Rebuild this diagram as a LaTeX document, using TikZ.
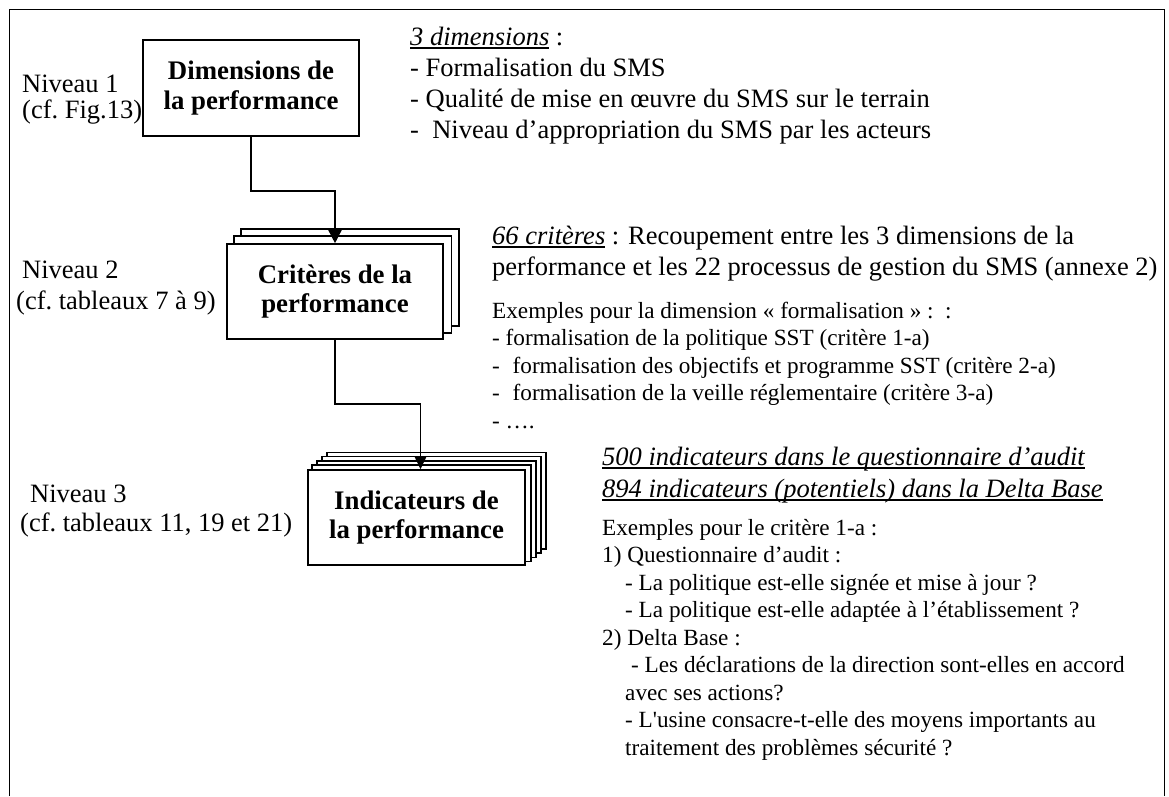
\documentclass[tikz,border=0pt]{standalone}
\usepackage{fontspec}
\setmainfont{Liberation Serif}
\usetikzlibrary{arrows.meta,backgrounds,calc}
\newsavebox\ulbox
\newcommand\myul[1]{\sbox\ulbox{#1}\rlap{\rule[-0.14em]{\wd\ulbox}{0.055em}}\usebox\ulbox}
\begin{document}
\begin{tikzpicture}[x=1pt,y=-1pt,
  frame/.style={line width=1.6pt},
  box/.style={draw, line width=1.6pt, fill=white, align=center, inner sep=0pt,
    font=\bfseries\fontsize{26.8}{29.5}\selectfont},
  layer/.style={draw, line width=1.6pt, fill=white},
  conn/.style={line width=1.6pt},
  lab/.style={inner sep=0pt, anchor=base west, font=\fontsize{26.5}{30}\selectfont},
  hdr/.style={inner sep=0pt, anchor=base west, font=\fontsize{26.5}{31}\selectfont},
  body/.style={inner sep=0pt, anchor=base west, font=\fontsize{23.2}{27.5}\selectfont}]
\useasboundingbox (0,0) rectangle (1169,796);
% outer frame (open at the bottom)
\draw[frame] (9.5,796) -- (9.5,9.5) -- (1164.5,9.5) -- (1164.5,796);

% boxes
\node[box, minimum width=216, minimum height=96] (b1) at (251,88) {Dimensions de\\la performance};
\node[box, minimum width=216, minimum height=95] (b2) at (335,291.5) {Critères de la\\performance};
\node[box, minimum width=217, minimum height=95] (b3) at (416.5,517.5) {Indicateurs de\\la performance};
\begin{scope}[on background layer]
  \foreach \k in {2,1}
    \draw[layer] ($(b2.south west)+(\k*7.5,-\k*7)$) rectangle ($(b2.north east)+(\k*7.5,-\k*7)$);
  \foreach \k in {4,3,2,1}
    \draw[layer] ($(b3.south west)+(\k*5,-\k*4.2)$) rectangle ($(b3.north east)+(\k*5,-\k*4.2)$);
\end{scope}

% connectors
\draw[conn,-{Triangle[length=14,width=14]}] (b1.south) -- ++(0,54) -| (b2.north);
\draw[conn,-{Triangle[length=13,width=12]}] (b2.south) -- ++(0,64) -| ([xshift=4]b3.north);

% level labels
\node[lab] (n1a) at (22,92) {Niveau 1};
\node[lab] (n1b) at (22,118) {(cf.\ Fig.13)};
\node[lab] (n2a) at (22,278) {Niveau 2};
\node[lab] (n2b) at (16,309) {(cf.\ tableaux 7 à 9)};
\node[lab] (n3a) at (30,502) {Niveau 3};
\node[lab] (n3b) at (20,531) {(cf.\ tableaux 11, 19 et 21)};

% block 1
\node[lab] (d0) at (410,45) {\myul{\textit{3 dimensions}} :};
\node[lab] (d1) at (410,76) {- Formalisation du SMS};
\node[lab] (d2) at (410,107) {- Qualité de mise en œuvre du SMS sur le terrain};
\node[lab] (d3) at (410,138) {-\hspace{0.5em}Niveau d’appropriation du SMS par les acteurs};

% block 2
\node[hdr] (c0) at (492,244) {\myul{\textit{66 critères}} : Recoupement entre les 3 dimensions de la};
\node[hdr] (c1) at (492,275) {performance et les 22 processus de gestion du SMS (annexe 2)};
\node[body] (c2) at (492,318) {Exemples pour la dimension « formalisation » :\ \ :};
\node[body] (c3) at (492,345.5) {- formalisation de la politique SST (critère 1-a)};
\node[body] (c4) at (492,373) {-\hspace{0.55em}formalisation des objectifs et programme SST (critère 2-a)};
\node[body] (c5) at (492,400.5) {-\hspace{0.55em}formalisation de la veille réglementaire (critère 3-a)};
\node[body] (c6) at (492,428) {- ….};

% block 3
\node[hdr] (i0) at (602,465) {\myul{\textit{500 indicateurs dans le questionnaire d’audit}}};
\node[hdr] (i1) at (602,497) {\myul{\textit{894 indicateurs (potentiels) dans la Delta Base}}};
\node[body] (i2) at (602,535) {Exemples pour le critère 1-a :};
\node[body] (i3) at (602,562.5) {1) Questionnaire d’audit :};
\node[body] (i4) at (625,590) {- La politique est-elle signée et mise à jour ?};
\node[body] (i5) at (625,617.5) {- La politique est-elle adaptée à l’établissement ?};
\node[body] (i6) at (602,645) {2) Delta Base :};
\node[body] (i7) at (631,672.5) {- Les déclarations de la direction sont-elles en accord};
\node[body] (i8) at (625,700) {avec ses actions?};
\node[body] (i9) at (625,727.5) {- L\textquotesingle usine consacre-t-elle des moyens importants au};
\node[body] (i10) at (625,755) {traitement des problèmes sécurité ?};
\end{tikzpicture}
\end{document}
